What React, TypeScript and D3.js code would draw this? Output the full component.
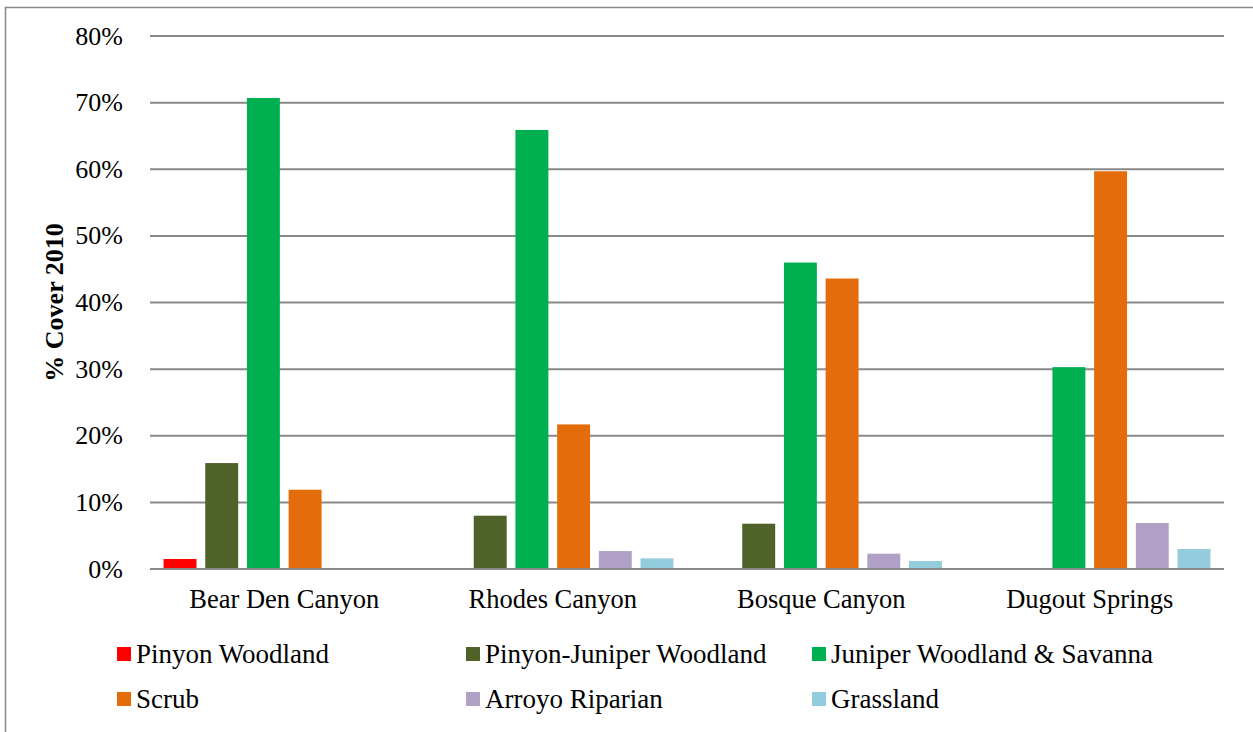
import React from "react";
import * as d3 from "d3";

const categories = ["Bear Den Canyon", "Rhodes Canyon", "Bosque Canyon", "Dugout Springs"];
const seriesNames = [
  "Pinyon Woodland",
  "Pinyon-Juniper Woodland",
  "Juniper Woodland & Savanna",
  "Scrub",
  "Arroyo Riparian",
  "Grassland",
];
const seriesColors = ["#FF0000", "#4F6228", "#00B050", "#E46C0A", "#B2A1C7", "#93CDDD"];
// values in % per series, in category order
const pinyon = [1.5, 0, 0, 0];
const pinyonJuniper = [15.9, 8.0, 6.8, 0];
const juniper = [70.7, 65.9, 46.0, 30.3];
const scrub = [11.9, 21.7, 43.6, 59.7];
const arroyo = [0, 2.7, 2.3, 6.9];
const grassland = [0, 1.6, 1.2, 3.0];
const seriesValues = [pinyon, pinyonJuniper, juniper, scrub, arroyo, grassland];
const yTicks = [0, 10, 20, 30, 40, 50, 60, 70, 80];

const W = 1253;
const H = 732;
const plotLeft = 150;
const plotRight = 1224;
const plotTop = 36;
const plotBottom = 569;
const FONT = "Liberation Serif";

export default function App() {
  const x0 = d3.scaleBand<string>().domain(categories).range([plotLeft, plotRight]).paddingInner(0).paddingOuter(0);
  const x1 = d3
    .scaleBand<string>()
    .domain(seriesNames)
    .range([0, x0.bandwidth()])
    .paddingInner(0.21)
    .paddingOuter(0.325);
  const y = d3.scaleLinear().domain([0, 80]).range([plotBottom, plotTop]);

  const legendCols = [117, 466, 812];
  const legendRows = [663, 708];
  const txt = { fontFamily: FONT, fontSize: 26, fill: "#000" } as React.CSSProperties;

  return (
    <div style={{ position: "absolute", left: 0, top: 0 }}>
      <svg width={W} height={H} style={{ display: "block", background: "#fff" }}>
        <rect x={5.5} y={7.5} width={W + 10} height={H + 10} fill="#fff" stroke="#898989" strokeWidth={1.5} />
        {yTicks.map((t) => (
          <g key={t}>
            <line x1={plotLeft} x2={plotRight} y1={y(t)} y2={y(t)} stroke="#898989" strokeWidth={2} />
            <text x={123} y={y(t)} dy="0.33em" textAnchor="end" style={txt}>
              {t}%
            </text>
          </g>
        ))}
        {categories.map((c, ci) => (
          <g key={c}>
            {seriesNames.map((s, si) => {
              const v = seriesValues[si][ci];
              if (!v) return null;
              return (
                <rect
                  key={s}
                  x={(x0(c) as number) + (x1(s) as number)}
                  y={y(v)}
                  width={x1.bandwidth()}
                  height={y(0) - y(v)}
                  fill={seriesColors[si]}
                />
              );
            })}
            <text
              x={(x0(c) as number) + x0.bandwidth() / 2}
              y={608}
              textAnchor="middle"
              style={{ ...txt, fontSize: 26.5 }}
            >
              {c}
            </text>
          </g>
        ))}
        <line x1={plotLeft} x2={plotRight} y1={y(0)} y2={y(0)} stroke="#898989" strokeWidth={2} />
        <text
          transform={`translate(63, ${(plotTop + plotBottom) / 2}) rotate(-90)`}
          textAnchor="middle"
          style={{ ...txt, fontSize: 26, fontWeight: "bold" }}
        >
          % Cover 2010
        </text>
        {seriesNames.map((s, i) => {
          const cx = legendCols[i % 3];
          const cy = legendRows[Math.floor(i / 3)];
          return (
            <g key={s}>
              <rect x={cx} y={cy - 16} width={14} height={14} fill={seriesColors[i]} />
              <text x={cx + 19} y={cy} style={{ ...txt, fontSize: 27 }}>
                {s}
              </text>
            </g>
          );
        })}
      </svg>
    </div>
  );
}
